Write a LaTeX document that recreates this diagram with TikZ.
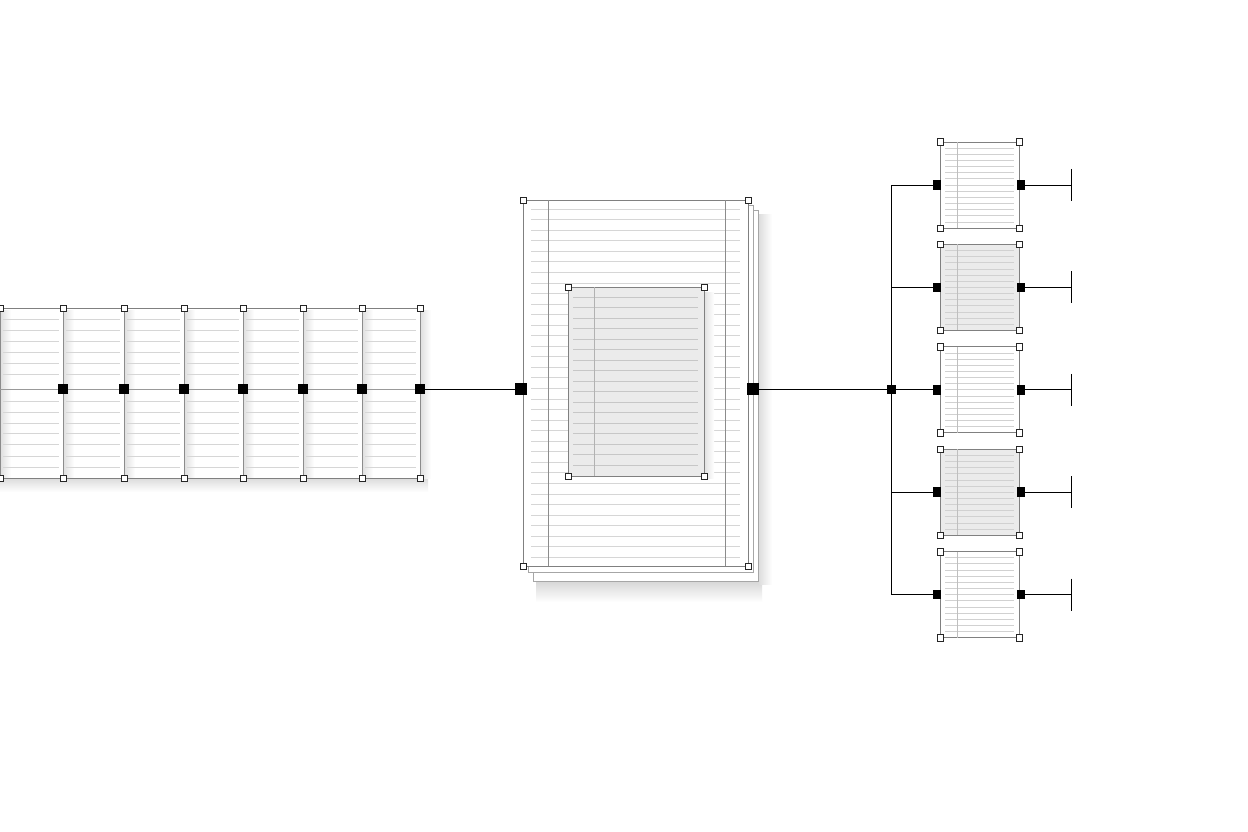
\documentclass[tikz,border=0pt]{standalone}
\begin{document}
\begin{tikzpicture}[x=1pt,y=-1pt,
  rule/.style={draw=black!16, line width=0.7pt},
  grule/.style={draw=black!22, line width=0.6pt},
  vline/.style={draw=black!45, line width=0.8pt},
  border/.style={draw=black!50, line width=0.8pt},
  csq/.style={draw=black!85, fill=white, line width=0.5pt, minimum size=6.5pt, inner sep=0pt, outer sep=0pt},
  bsq/.style={fill=black, minimum size=10pt, inner sep=0pt, outer sep=0pt},
  lsq/.style={fill=black, minimum size=12pt, inner sep=0pt, outer sep=0pt},
  msq/.style={fill=black, minimum width=8pt, minimum height=9.5pt, inner sep=0pt, outer sep=0pt},
  wire/.style={draw=black, line width=0.9pt},
  gwire/.style={draw=black!40, line width=0.7pt}]
\useasboundingbox[fill=white] (0,0) rectangle (1248,832);

% ---------- left strip ----------
\foreach \x in {0,63,124,184,243,303,362,420}
  \shade[left color=black!13,right color=white] (\x,310) rectangle (\x+11,478);
\shade[top color=black!13,bottom color=white] (0,479) rectangle (428,492);
\foreach \a/\b in {0/63,63/124,124/184,184/243,243/303,303/362,362/420}
  \foreach \y in {319,330,341,352,363,374,401,412,423,433,444,456,467}
    \draw[rule] (\a+3,\y) -- (\b-4,\y);
\draw[border] (0,308) -- (420,308);
\draw[border] (0,478) -- (420,478);
\foreach \x in {0,63,124,184,243,303,362,420}{
  \draw[vline] (\x,308) -- (\x,478);
  \node[csq] at (\x,308) {};
  \node[csq] at (\x,478) {};
}
\node[bsq] (s1) at (63,389) {};
\node[bsq] (s2) at (124,389) {};
\node[bsq] (s3) at (184,389) {};
\node[bsq] (s4) at (243,389) {};
\node[bsq] (s5) at (303,389) {};
\node[bsq] (s6) at (362,389) {};
\node[bsq] (s7) at (420,389) {};
\coordinate (s0) at (0,389);
\foreach \p/\q in {s0/s1,s1/s2,s2/s3,s3/s4,s4/s5,s5/s6,s6/s7}
  \draw[gwire] (\p) -- (\q);

% ---------- central document ----------
\shade[top color=black!16,bottom color=white] (536,581) rectangle (762,602);
\shade[left color=black!14,right color=white] (758,214) rectangle (772,584);
\draw[border,draw=black!35,fill=white] (533,210) rectangle (758,581);
\draw[border,draw=black!35,fill=white] (528,205) rectangle (753,572);
\draw[border,fill=white] (523,200) rectangle (748,566);
\foreach \k in {0,...,33}
  \draw[rule] (531,{209+10.55*\k}) -- (740,{209+10.55*\k});
\draw[vline] (548,200) -- (548,566);
\draw[vline] (725,200) -- (725,566);
\shade[left color=black!12,right color=white] (704,292) rectangle (714,478);
\draw[border,fill=black!8] (568,287) rectangle (704,476);
\foreach \k in {0,...,16}
  \draw[grule] (573,{297+10.5*\k}) -- (698,{297+10.5*\k});
\draw[vline,draw=black!30] (594,287) -- (594,476);
\foreach \p in {(523,200),(748,200),(523,566),(748,566),(568,287),(704,287),(568,476),(704,476)}
  \node[csq] at \p {};
\node[lsq] (cL) at (521,389) {};
\node[lsq] (cR) at (753,389) {};
\draw[wire] (s7) -- (cL);

% ---------- bus and right documents ----------
\node[msq,minimum width=9pt,minimum height=9pt] (bus) at (891,389) {};
\draw[wire] (cR) -- (bus);
\coordinate (btop) at (891,185);
\coordinate (bbot) at (891,594.6);
\draw[wire] (btop) -- (bbot);
\foreach \k/\fc in {0/white,1/black!8,2/white,3/black!8,4/white}{
  \pgfmathsetmacro\cy{185+102.4*\k}
  \draw[border,fill=\fc] (940,\cy-43) rectangle (1019,\cy+43);
  \foreach \j in {0,...,12}
    \draw[grule,draw=black!18] (945,{\cy-37+6.15*\j}) -- (1014,{\cy-37+6.15*\j});
  \draw[draw=black!25,line width=0.5pt] (957,\cy-43) -- (957,\cy+43);
  \node[csq] at (940,\cy-43) {};
  \node[csq] at (1019,\cy-43) {};
  \node[csq] at (940,\cy+43) {};
  \node[csq] at (1019,\cy+43) {};
  \node[msq] (l\k) at (937,\cy) {};
  \node[msq] (r\k) at (1021,\cy) {};
  \coordinate (b\k) at (891,\cy);
  \coordinate (t\k) at (1071,\cy);
  \draw[wire] (b\k) -- (l\k);
  \draw[wire] (r\k) -- (t\k);
  \draw[wire] ([yshift=16pt]t\k) -- ([yshift=-16pt]t\k);
}
\end{tikzpicture}
\end{document}
